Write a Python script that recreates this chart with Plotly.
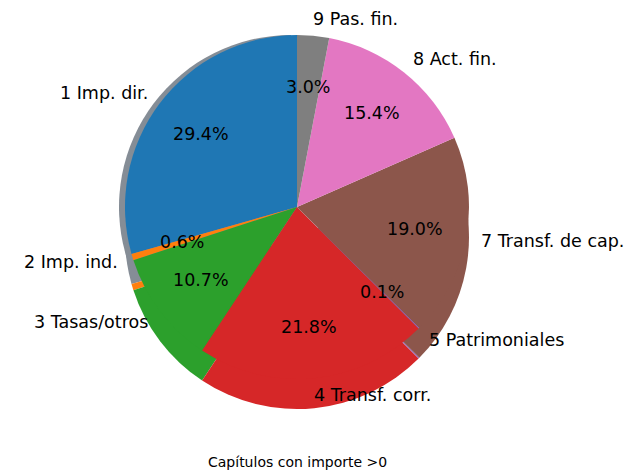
import math
import plotly.graph_objects as go

# Capítulos de ingresos con importe > 0 (porcentaje del total)
labels = ["1 Imp. dir.", "2 Imp. ind.", "3 Tasas/otros", "4 Transf. corr.",
          "5 Patrimoniales", "7 Transf. de cap.", "8 Act. fin.", "9 Pas. fin."]
values = [29.4, 0.6, 10.7, 21.8, 0.1, 19.0, 15.4, 3.0]
colors = ["#1f77b4", "#ff7f0e", "#2ca02c", "#d62728",
          "#9467bd", "#8c564b", "#e377c2", "#7f7f7f"]
title_text = "Capítulos con importe >0"

W, H = 626, 470
cx, cy, r = 297, 207, 172  # pie centre and radius in pixels
FONT = "DejaVu Sans"
FS = 17.5
CLEAR = "rgba(0,0,0,0)"
SHADOW = "#858d96"

total = sum(values)
# plotly puts the first slice clockwise of `rotation`; matplotlib starts it at 12 o'clock going ccw
rot = -360 * values[0] / total


def domain(dx=0, dy=0):
    return dict(x=[(cx - r + dx) / W, (cx + r + dx) / W],
                y=[1 - (cy + r + dy) / H, 1 - (cy - r + dy) / H])


def pie(cols, dom, **kw):
    return go.Pie(values=values, sort=False, direction="counterclockwise", rotation=rot,
                  marker=dict(colors=cols, line=dict(width=0)),
                  textinfo="none", showlegend=False, domain=dom, **kw)


fig = go.Figure()

# grey shadow peeking out on the left
fig.add_trace(pie([SHADOW if i < 2 else CLEAR for i in range(len(values))],
                  domain(-6, 0), hoverinfo="skip"))
# lower copy of the bottom wedges (the smeared bottom edge of the original)
low = [SHADOW] + [colors[i] if i <= 5 else CLEAR for i in range(1, len(values))]
fig.add_trace(pie(low, domain(0, 30), hoverinfo="skip"))
# the pie itself
fig.add_trace(pie(colors, domain(), labels=labels))

cum = 0
annotations = []
for lab, v in zip(labels, values):
    theta = math.radians(90 + 360 * (cum + v / 2) / total)
    cum += v
    c, s = math.cos(theta), math.sin(theta)
    # outer label
    annotations.append(dict(
        x=(cx + 1.1 * r * c) / W, y=1 - (cy - 1.1 * r * s) / H,
        xref="paper", yref="paper", text=lab, showarrow=False,
        xanchor="left" if c > 0 else "right", yanchor="middle",
        xshift=-4 if c > 0 else 4,
        font=dict(family=FONT, size=FS, color="black")))
    # percentage
    annotations.append(dict(
        x=(cx + 0.7 * r * c) / W, y=1 - (cy - 0.7 * r * s) / H,
        xref="paper", yref="paper", text=f"{100 * v / total:.1f}%",
        showarrow=False, xanchor="center", yanchor="middle",
        font=dict(family=FONT, size=FS, color="black")))

annotations.append(dict(
    x=cx / W, y=1 - 462 / H, xref="paper", yref="paper", text=title_text,
    showarrow=False, xanchor="center", yanchor="middle",
    font=dict(family=FONT, size=14, color="black")))

fig.update_layout(
    width=W, height=H,
    margin=dict(l=0, r=0, t=0, b=0),
    paper_bgcolor="white", plot_bgcolor="white",
    annotations=annotations,
)

# drop the default 8px body margin so the figure fills the window
fig.write_html("out.html", config={"displayModeBar": False},
               post_script="document.body.style.margin='0px';")
